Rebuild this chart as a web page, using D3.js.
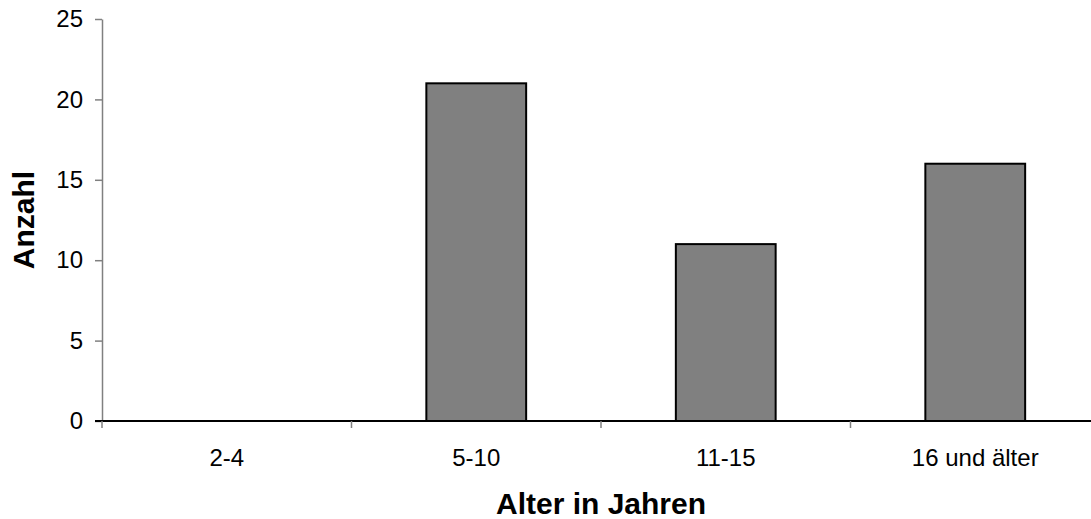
<!DOCTYPE html>
<html>
<head>
<meta charset="utf-8">
<script src="https://cdn.jsdelivr.net/npm/d3@7"></script>
<style>
  html, body { margin: 0; padding: 0; background: #fff; }
  svg { display: block; font-family: Arial, "Liberation Sans", sans-serif; }
</style>
</head>
<body>
<svg id="chart" width="1091" height="519"></svg>
<script>
// Age groups and counts
const categories = ["2-4", "5-10", "11-15", "16 und älter"];
const counts = [0, 21, 11, 16];
const yTicks = [0, 5, 10, 15, 20, 25];
const xTitle = "Alter in Jahren";
const yTitle = "Anzahl";

(function () {
  const svg = d3.select("#chart");
  const plotLeft = 102, plotRight = 1100, plotTop = 19, plotBottom = 421;

  const x = d3.scaleBand().domain(categories).range([plotLeft, plotRight]).paddingInner(0.6).paddingOuter(0.3);
  const xOuter = d3.scaleBand().domain(categories).range([plotLeft, plotRight]);
  const y = d3.scaleLinear().domain([0, 25]).range([plotBottom, plotTop]);

  // Bars
  svg.append("g").selectAll("rect")
    .data(categories.map((c, i) => ({ c, v: counts[i] })).filter(d => d.v > 0))
    .join("rect")
    .attr("x", d => x(d.c))
    .attr("y", d => y(d.v))
    .attr("width", x.bandwidth())
    .attr("height", d => y(0) - y(d.v))
    .attr("fill", "#808080")
    .attr("stroke", "#000")
    .attr("stroke-width", 2);

  // Y axis
  const yAxis = svg.append("g").attr("transform", `translate(${plotLeft},0)`)
    .call(d3.axisLeft(y).tickValues(yTicks).tickSize(7).tickPadding(12).tickSizeOuter(0));
  yAxis.select(".domain").attr("stroke", "#808080").attr("stroke-width", 1.5);
  yAxis.selectAll(".tick line").attr("stroke", "#808080").attr("stroke-width", 1.5);
  yAxis.selectAll(".tick text").attr("font-size", 24).attr("fill", "#000")
    .attr("font-family", "Arial, 'Liberation Sans', sans-serif");

  // X axis: category boundaries carry the tick marks
  const xAxisG = svg.append("g").attr("transform", `translate(0,${plotBottom})`);
  xAxisG.append("line").attr("x1", plotLeft - 7).attr("x2", plotRight).attr("y1", 0).attr("y2", 0)
    .attr("stroke", "#000").attr("stroke-width", 2);
  const bounds = categories.map(c => xOuter(c)).concat([plotRight]);
  xAxisG.selectAll("line.b").data(bounds).join("line").attr("class", "b")
    .attr("x1", d => d).attr("x2", d => d).attr("y1", 0).attr("y2", 7)
    .attr("stroke", "#808080").attr("stroke-width", 1.5);
  xAxisG.selectAll("text").data(categories).join("text")
    .attr("x", d => xOuter(d) + xOuter.bandwidth() / 2)
    .attr("y", 45)
    .attr("text-anchor", "middle")
    .attr("font-size", 24)
    .attr("fill", "#000")
    .text(d => d);

  // Axis titles
  svg.append("text")
    .attr("x", (plotLeft + plotRight) / 2).attr("y", 514)
    .attr("text-anchor", "middle").attr("font-size", 30).attr("font-weight", "bold")
    .text(xTitle);
  svg.append("text")
    .attr("transform", `translate(34,${(plotTop + plotBottom) / 2}) rotate(-90)`)
    .attr("text-anchor", "middle").attr("font-size", 30).attr("font-weight", "bold")
    .text(yTitle);
})();
</script>
</body>
</html>
